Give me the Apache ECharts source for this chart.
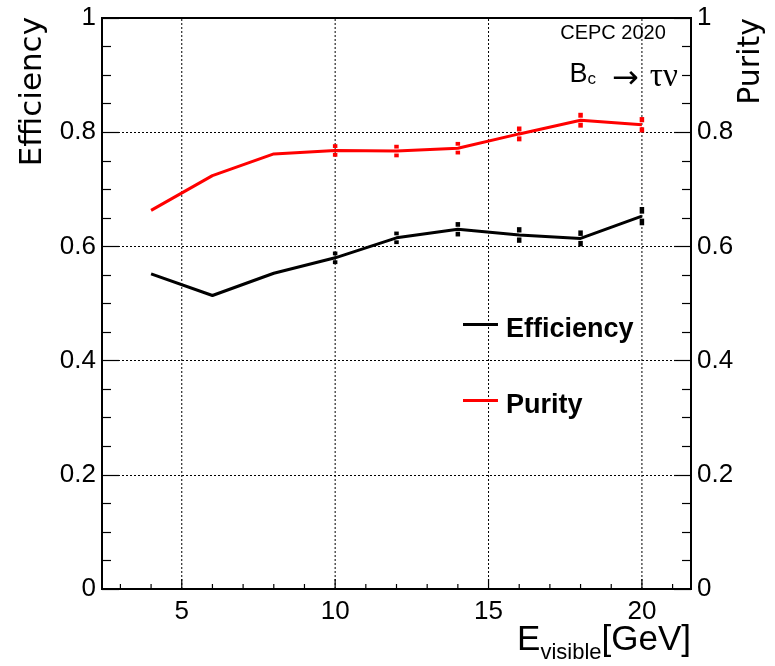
<!DOCTYPE html>
<html>
<head>
<meta charset="utf-8">
<script src="https://cdn.jsdelivr.net/npm/echarts@6/dist/echarts.min.js"></script>
<style>
  html, body { margin: 0; padding: 0; background: #fff; }
  #chart { width: 775px; height: 666px; }
</style>
</head>
<body>
<div id="chart"></div>
<script>
// Visible energy bin centres (GeV)
const energies = [4, 6, 8, 10, 12, 14, 16, 18, 20];
// Selection efficiency and its uncertainty per bin
const efficiency = [0.552, 0.514, 0.553, 0.580, 0.615, 0.630, 0.620, 0.614, 0.653];
const efficiencyErr = [0, 0, 0, 0.011, 0.011, 0.0126, 0.0137, 0.014, 0.016];
// Sample purity and its uncertainty per bin
const purity = [0.663, 0.724, 0.762, 0.768, 0.767, 0.772, 0.797, 0.821, 0.813];
const purityErr = [0, 0, 0, 0.011, 0.011, 0.011, 0.013, 0.013, 0.0135];

// Axis ranges and tick positions
const xRange = [2.4, 21.6];
const xMajorTicks = [5, 10, 15, 20];
const xMinorTicks = [3, 4, 6, 7, 8, 9, 11, 12, 13, 14, 16, 17, 18, 19, 21];
const yRange = [0, 1];
const yStep = 0.2;

const FONT = "'Liberation Sans', Arial, Helvetica, sans-serif";
const RED = '#ff0000';
const BLACK = '#000000';

const chart = echarts.init(document.getElementById('chart'), null, { renderer: 'canvas' });

const xTickData = xMajorTicks.map(v => [v, 1]).concat(xMinorTicks.map(v => [v, 0]));

function renderXTicks(params, api) {
  const v = api.value(0);
  const major = api.value(1) === 1;
  const b = api.coord([v, yRange[0]]);
  const t = api.coord([v, yRange[1]]);
  const children = [];
  if (major) {
    children.push({
      type: 'line',
      shape: { x1: b[0], y1: b[1], x2: t[0], y2: t[1] },
      style: { stroke: BLACK, lineWidth: 1, lineDash: [2, 2] },
      silent: true
    });
  }
  children.push({
    type: 'line',
    shape: { x1: b[0], y1: b[1], x2: b[0], y2: b[1] - (major ? 10 : 5) },
    style: { stroke: BLACK, lineWidth: 1.2 },
    silent: true
  });
  return { type: 'group', children: children };
}

function errorBarRenderer(color) {
  return function (params, api) {
    const x = api.value(0), y = api.value(1), e = api.value(2);
    if (!e) return null;
    const hi = api.coord([x, y + e]);
    const lo = api.coord([x, y - e]);
    const c = api.coord([x, y]);
    const gap = 2.5;
    const st = { stroke: color, lineWidth: 4.5 };
    return {
      type: 'group',
      children: [
        { type: 'line', shape: { x1: hi[0], y1: hi[1], x2: c[0], y2: c[1] - gap }, style: st },
        { type: 'line', shape: { x1: c[0], y1: c[1] + gap, x2: lo[0], y2: lo[1] }, style: st }
      ]
    };
  };
}

const yAxisCommon = {
  type: 'value',
  min: yRange[0],
  max: yRange[1],
  interval: yStep,
  axisLine: { show: true, lineStyle: { color: BLACK, width: 2 } },
  axisTick: { show: true, inside: true, length: 17, lineStyle: { color: BLACK, width: 1.2 } },
  minorTick: { show: true, splitNumber: 4, length: 9, lineStyle: { color: BLACK, width: 1.2 } },
  axisLabel: { color: BLACK, fontSize: 26, fontFamily: FONT, margin: 6 },
  splitLine: { show: false }
};

// Legend key: a short bar sitting in the upper part of the icon box
const legendIcon = 'path://M0,0h35v3h-35z M0,14h0.01v0.01h-0.01z';

const option = {
  animation: false,
  backgroundColor: '#ffffff',
  grid: {
    left: 102, right: 84, top: 18, bottom: 77,
    show: true, borderColor: BLACK, borderWidth: 2, backgroundColor: 'transparent'
  },
  xAxis: {
    type: 'value',
    min: xRange[0],
    max: xRange[1],
    axisLine: { show: true, lineStyle: { color: BLACK, width: 2 } },
    axisTick: { show: false },
    splitLine: { show: false },
    axisLabel: {
      color: BLACK, fontSize: 26, fontFamily: FONT, margin: 10,
      customValues: xMajorTicks,
      formatter: v => (xMajorTicks.indexOf(v) >= 0 ? String(v) : '')
    }
  },
  yAxis: [
    Object.assign({}, yAxisCommon, {
      position: 'left',
      splitLine: { show: true, lineStyle: { color: BLACK, width: 1, type: [2, 2] } }
    }),
    Object.assign({}, yAxisCommon, { position: 'right' })
  ],
  legend: {
    orient: 'vertical',
    left: 463,
    top: 315,
    padding: 0,
    itemWidth: 35,
    itemHeight: 14,
    itemGap: 46,
    icon: legendIcon,
    data: ['Efficiency', 'Purity'],
    textStyle: {
      color: BLACK, fontSize: 27, fontWeight: 'bold', fontFamily: FONT,
      lineHeight: 30, padding: [0, 0, 0, 3]
    },
    selectedMode: false
  },
  series: [
    {
      type: 'custom',
      name: 'xticks',
      renderItem: renderXTicks,
      data: xTickData,
      xAxisIndex: 0, yAxisIndex: 0,
      silent: true, z: 1
    },
    {
      type: 'line',
      name: 'Efficiency',
      data: energies.map((x, i) => [x, efficiency[i]]),
      symbol: 'none',
      lineStyle: { color: BLACK, width: 3 },
      itemStyle: { color: BLACK },
      z: 3
    },
    {
      type: 'line',
      name: 'Purity',
      data: energies.map((x, i) => [x, purity[i]]),
      symbol: 'none',
      lineStyle: { color: RED, width: 3 },
      itemStyle: { color: RED },
      z: 3
    },
    {
      type: 'custom',
      name: 'efficiencyErr',
      renderItem: errorBarRenderer(BLACK),
      data: energies.map((x, i) => [x, efficiency[i], efficiencyErr[i]]),
      silent: true, z: 4
    },
    {
      type: 'custom',
      name: 'purityErr',
      renderItem: errorBarRenderer(RED),
      data: energies.map((x, i) => [x, purity[i], purityErr[i]]),
      silent: true, z: 4
    }
  ],
  graphic: [
    {
      type: 'text',
      x: 33, y: 17,
      rotation: Math.PI / 2,
      style: {
        text: 'Efficiency', fill: BLACK,
        font: "31px 'DejaVu Sans', sans-serif",
        align: 'right', verticalAlign: 'middle'
      }
    },
    {
      type: 'text',
      x: 751, y: 18,
      rotation: Math.PI / 2,
      style: {
        text: 'Purity', fill: BLACK,
        font: "30px 'DejaVu Sans', sans-serif",
        align: 'right', verticalAlign: 'middle'
      }
    },
    {
      type: 'text',
      x: 691, y: 623,
      style: {
        text: '{a|E}{b|visible}{a|[GeV]}',
        align: 'right', verticalAlign: 'top',
        rich: {
          a: { fontSize: 35, fontFamily: FONT, lineHeight: 35, color: BLACK, verticalAlign: 'top' },
          b: { fontSize: 22, fontFamily: FONT, lineHeight: 22, color: BLACK, verticalAlign: 'top', padding: [19, 0, 0, 0] }
        }
      }
    },
    {
      type: 'text',
      x: 613, y: 33,
      style: {
        text: 'CEPC 2020', fill: BLACK,
        font: '20px ' + FONT,
        align: 'center', verticalAlign: 'middle'
      }
    },
    {
      type: 'text',
      x: 678, y: 61,
      style: {
        text: '{b|B}{s|c}{r|→}{g|τν}',
        align: 'right', verticalAlign: 'top',
        rich: {
          b: { fontSize: 27, fontFamily: FONT, lineHeight: 26, color: BLACK, verticalAlign: 'top' },
          s: { fontSize: 17, fontFamily: FONT, lineHeight: 17, color: BLACK, verticalAlign: 'top', padding: [10, 0, 0, 0] },
          r: { fontSize: 32, fontFamily: "'DejaVu Sans', sans-serif", lineHeight: 26, color: BLACK, verticalAlign: 'top', padding: [3, 11, 0, 16] },
          g: { fontSize: 33, fontFamily: "'Liberation Serif', serif", lineHeight: 26, color: BLACK, verticalAlign: 'top' }
        }
      }
    }
  ]
};

chart.setOption(option);
</script>
</body>
</html>
